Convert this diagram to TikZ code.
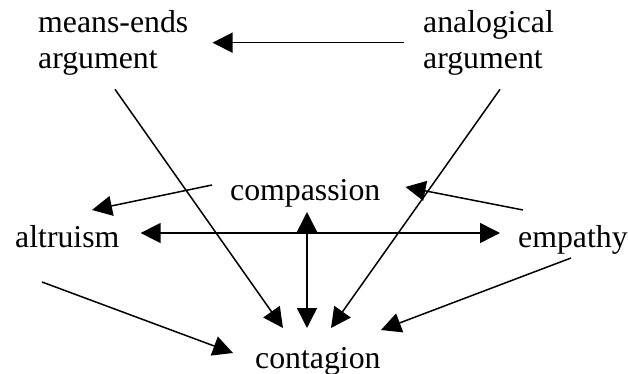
\documentclass[tikz,border=0pt]{standalone}
\usepackage{fontspec}
\setmainfont{Liberation Serif}
\usetikzlibrary{arrows.meta,calc,positioning}

\tikzset{
  concept/.style={inner sep=0pt, font=\fontsize{31.8}{36}\selectfont},
  link/.style={line width=1.5pt, -{Triangle[length=20pt,width=20pt]}},
  twoway/.style={line width=1.5pt, {Triangle[length=20pt,width=20pt]}-{Triangle[length=20pt,width=20pt]}},
}

\begin{document}
\begin{tikzpicture}[x=1pt,y=-1pt]
  \useasboundingbox (0,0) rectangle (628,374);

  % arguments on top
  \node[concept,align=left,anchor=north west] (meansends) at (38,10) {means-ends\\argument};
  \node[concept,align=left,anchor=north west] (analogical) at (423,10) {analogical\\argument};

  % feelings
  \node[concept,anchor=base west] (compassion) at (230,200) {compassion};
  \node[concept,anchor=base west] (altruism) at (15,247) {altruism};
  \node[concept,anchor=base west] (empathy) at (518,247) {empathy};
  \node[concept,anchor=base west] (contagion) at (255,368) {contagion};

  \draw[link, shorten <=19pt, shorten >=24pt] (analogical.west) -- (meansends.east);
  \draw[link] ($(meansends.south west)+(77,14)$) -- ($(contagion.base west)+(28,-40)$);
  \draw[link] ($(analogical.south west)+(77,14)$) -- ($(contagion.base west)+(76,-40)$);

  \draw[link] ($(compassion.base west)+(-18,-15)$) -- ($(altruism.base west)+(77,-37)$);
  \draw[link] ($(empathy.base west)+(5,-37)$) -- ($(compassion.base east)+(25,-13)$);
  \draw[twoway] ($(altruism.base east)+(21,-14)$) -- ($(empathy.base west)+(-18,-14)$);
  \draw[twoway] ($(compassion.base west)+(77,12)$) -- ($(contagion.base west)+(52,-40)$);

  % into contagion
  \draw[link] ($(altruism.base west)+(27,35)$) -- ($(contagion.base west)+(-22,-15)$);
  \draw[link] ($(empathy.base west)+(53,11)$) -- ($(contagion.base west)+(126,-38)$);
\end{tikzpicture}
\end{document}
